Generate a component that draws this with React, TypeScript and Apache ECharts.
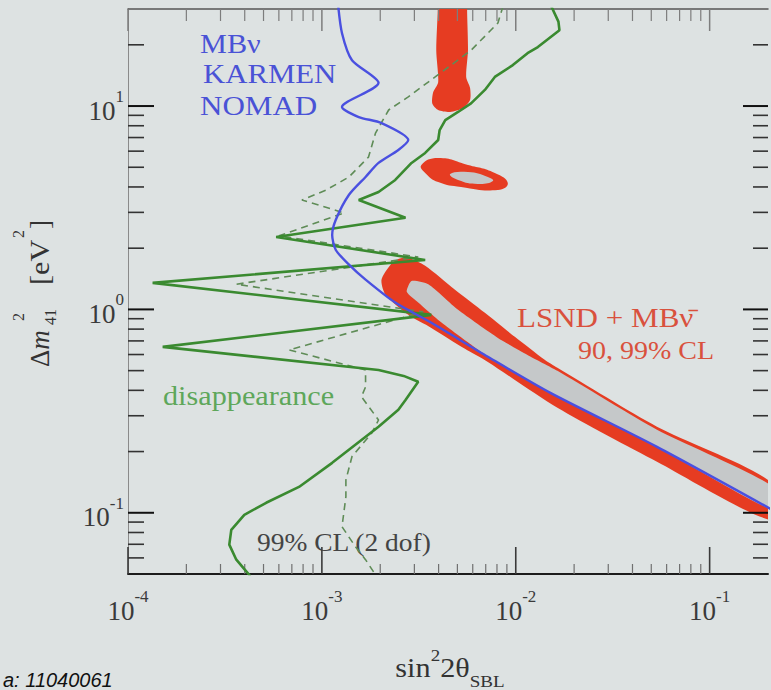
import React, { useEffect, useRef } from 'react';
import * as echarts from 'echarts';

// ---- axis ranges & ticks ----
const X_MIN = 1e-4;
const X_MAX = 0.2;
const Y_MIN = 0.05;
const Y_MAX = 30;
const xMajor = [1e-4, 1e-3, 1e-2, 1e-1];
const xMajorLabels = ['-4', '-3', '-2', '-1'];
const yMajor = [0.1, 1, 10];
const yMajorLabels = ['-1', '0', '1'];
const minorMultipliers = [2, 3, 4, 5, 6, 7, 8, 9];
const xDecades = [1e-4, 1e-3, 1e-2, 1e-1];
const yDecades = [0.01, 0.1, 1, 10];

// ---- curves: [sin^2 2theta, dm^2 (eV^2)] ----
const blueCurve = [
  [1.21e-3, 32], [1.27e-3, 22.8], [1.43e-3, 16.8], [1.96e-3, 13.0], [1.27e-3, 9.89],
  [1.55e-3, 8.83], [2.03e-3, 8.25], [2.79e-3, 6.81], [2.48e-3, 6.08], [1.96e-3, 5.25],
  [1.68e-3, 4.48], [1.38e-3, 3.66], [1.18e-3, 2.76], [1.13e-3, 2.32], [1.18e-3, 1.96],
  [1.38e-3, 1.66], [1.68e-3, 1.40], [2.39e-3, 1.08], [3.67e-3, 0.859], [7.18e-3, 0.585],
  [1.5e-2, 0.39], [5.35e-2, 0.211], [0.208, 0.104],
];

const greenSolid = [
  [1.5e-2, 32], [1.66e-2, 26.0], [1.68e-2, 23.6], [1.30e-2, 19.5], [1.15e-2, 18.2],
  [9.66e-3, 15.9], [7.80e-3, 13.9], [6.93e-3, 12.0], [5.88e-3, 10.3], [5.04e-3, 9.35],
  [4.33e-3, 8.53], [4.05e-3, 7.62], [3.98e-3, 6.81], [3.41e-3, 5.88], [2.90e-3, 5.25],
  [2.39e-3, 4.33], [1.96e-3, 3.78], [1.55e-3, 3.45], [2.70e-3, 2.82], [5.81e-4, 2.27],
  [3.41e-3, 1.75], [1.34e-4, 1.35], [3.67e-3, 0.94], [1.51e-4, 0.654], [1.96e-3, 0.504],
  [2.64e-3, 0.471], [3.14e-3, 0.441], [2.70e-3, 0.359], [2.48e-3, 0.321], [1.96e-3, 0.265],
  [1.13e-3, 0.176], [7.62e-4, 0.134], [5.16e-4, 0.112], [3.98e-4, 0.0977], [3.41e-4, 0.0824],
  [3.33e-4, 0.0697], [3.62e-4, 0.0588], [4.22e-4, 0.0495], [4.48e-4, 0.044],
];

const greenDashed = [
  [8.6e-3, 31], [8.09e-3, 25.6], [5.88e-3, 18.8], [3.84e-3, 13.9], [2.79e-3, 11.1],
  [2.21e-3, 9.56], [1.89e-3, 7.36], [1.74e-3, 5.61], [1.38e-3, 4.48], [1.05e-3, 3.86],
  [7.89e-4, 3.45], [9.66e-4, 3.26], [1.30e-3, 2.98], [6.01e-4, 2.30], [3.14e-3, 1.81],
  [3.62e-4, 1.33], [3.33e-3, 0.973], [6.77e-4, 0.632], [1.68e-3, 0.504], [1.68e-3, 0.416],
  [1.60e-3, 0.372], [1.96e-3, 0.286], [1.81e-3, 0.247], [1.43e-3, 0.189], [1.33e-3, 0.145],
  [1.33e-3, 0.12], [1.27e-3, 0.0854], [1.49e-3, 0.0681], [1.68e-3, 0.0588], [1.96e-3, 0.047],
];

// ---- allowed regions (closed outlines) ----
const band99 = [
  [2.79e-3, 1.79], [3.41e-3, 1.64], [4.86e-3, 1.25], [6.93e-3, 0.962], [9.89e-3, 0.733],
  [1.41e-2, 0.565], [1.64e-2, 0.516], [5.35e-2, 0.265], [0.208, 0.141],
  [0.208, 0.092], [5.35e-2, 0.178], [1.64e-2, 0.328], [7.18e-3, 0.552], [5.47e-3, 0.64],
  [3.67e-3, 0.811], [2.79e-3, 0.94], [2.13e-3, 1.18], [2.03e-3, 1.40], [2.26e-3, 1.66],
  [2.48e-3, 1.77],
];
const band90 = [
  [2.90e-3, 1.38], [3.54e-3, 1.33], [5.04e-3, 0.995], [8.09e-3, 0.724], [1.15e-2, 0.597],
  [1.64e-2, 0.499], [5.35e-2, 0.256], [0.208, 0.136],
  [0.208, 0.104], [5.35e-2, 0.211], [1.5e-2, 0.39], [7.18e-3, 0.585], [5.88e-3, 0.672],
  [3.98e-3, 0.888], [3.14e-3, 1.08], [2.74e-3, 1.22],
];
const topBlob99 = [
  [3.96e-3, 45], [5.63e-3, 45], [5.61e-3, 30], [5.67e-3, 18.8], [5.55e-3, 13.9], [5.81e-3, 12.3],
  [5.81e-3, 10.7], [5.35e-3, 9.78], [4.59e-3, 9.35], [3.98e-3, 9.56], [3.71e-3, 10.3],
  [3.75e-3, 11.7], [3.98e-3, 13.1], [3.89e-3, 18.8], [3.96e-3, 30],
];
const island99 = [
  [3.26e-3, 5.13], [3.98e-3, 5.55], [5.67e-3, 5.13], [7.80e-3, 4.69], [9.10e-3, 4.18],
  [8.09e-3, 3.86], [5.22e-3, 4.0], [3.98e-3, 4.23], [3.41e-3, 4.69],
];
const island90 = [
  [4.59e-3, 4.63], [5.67e-3, 4.74], [7.18e-3, 4.48], [7.62e-3, 4.28], [6.38e-3, 4.14],
  [5.04e-3, 4.33],
];

// ---- styling ----
const BG = '#dde2e2';
const RED = '#e63c22';
const GRAY = '#c5c8c9';
const SERIF = "'Liberation Serif', 'DejaVu Serif', serif";
const LABEL = '#3a3a3a';
const TITLE = '#333';

const tickRich = {
  b: { fontSize: 27, fontFamily: SERIF, color: LABEL, padding: [9, 0, 0, 0], verticalAlign: 'bottom' },
  s: { fontSize: 17, fontFamily: SERIF, color: LABEL, verticalAlign: 'top' },
};

function powLabel(v: number, majors: number[], labels: string[]) {
  for (let i = 0; i < majors.length; i++) {
    if (Math.abs(v / majors[i] - 1) < 1e-6) return `{b|10}{s|${labels[i]}}`;
  }
  return '';
}

function buildTicks(decades: number[], majors: number[], lo: number, hi: number) {
  const out: number[][] = [];
  majors.forEach((m) => out.push([m, 1]));
  decades.forEach((d) =>
    minorMultipliers.forEach((k) => {
      const v = d * k;
      if (v > lo && v < hi) out.push([v, 0]);
    })
  );
  return out;
}

function polySeries(points: number[][], fill: string, smooth: number) {
  return {
    type: 'custom',
    coordinateSystem: 'cartesian2d',
    silent: true,
    clip: true,
    data: [points[0]],
    renderItem: (_p: any, api: any) => ({
      type: 'polygon',
      shape: { points: points.map((p) => api.coord(p)), smooth },
      style: { fill },
    }),
  };
}

function vText(x: number, y: number, text: string, fontSize: number, extra: any = {}, scaleX = 1) {
  return {
    type: 'text',
    x,
    y,
    rotation: Math.PI / 2,
    scaleX,
    silent: true,
    style: { text, fontSize, fontFamily: SERIF, fill: TITLE, align: 'left', verticalAlign: 'middle', ...extra },
  };
}

function buildOption() {
  const xTicks = buildTicks(xDecades, xMajor, X_MIN, X_MAX).map((t) => [t[0], Y_MIN, t[1]]);
  const yTicks = buildTicks(yDecades, yMajor, Y_MIN, Y_MAX).map((t) => [X_MIN, t[0], t[1]]);

  const baseAxis = {
    type: 'log',
    logBase: 10,
    splitLine: { show: false },
    axisTick: { show: false },
    minorTick: { show: false },
    minorSplitLine: { show: false },
  };

  return {
    animation: false,
    backgroundColor: BG,
    grid: { left: 128, top: 9, width: 644, height: 565, containLabel: false },
    xAxis: [
      {
        ...baseAxis,
        min: X_MIN,
        max: X_MAX,
        position: 'bottom',
        axisLine: { show: true, onZero: false, lineStyle: { color: '#1c1c1c', width: 2 } },
        axisLabel: {
          margin: 14,
          showMinLabel: true,
          formatter: (v: number) => powLabel(v, xMajor, xMajorLabels),
          rich: tickRich,
        },
      },
      {
        ...baseAxis,
        min: X_MIN,
        max: X_MAX,
        position: 'top',
        axisLine: { show: true, onZero: false, lineStyle: { color: '#555', width: 1.5 } },
        axisLabel: { show: false },
      },
    ],
    yAxis: [
      {
        ...baseAxis,
        min: Y_MIN,
        max: Y_MAX,
        position: 'left',
        axisLine: { show: true, onZero: false, lineStyle: { color: '#8a8a8a', width: 1 } },
        axisLabel: {
          margin: 4,
          formatter: (v: number) => powLabel(v, yMajor, yMajorLabels),
          rich: tickRich,
        },
      },
      {
        ...baseAxis,
        min: Y_MIN,
        max: Y_MAX,
        position: 'right',
        axisLine: { show: false },
        axisLabel: { show: false },
      },
    ],
    series: [
      polySeries(band99, RED, 0.25),
      polySeries(band90, GRAY, 0.2),
      polySeries(topBlob99, RED, 0.25),
      polySeries(island99, RED, 0.5),
      polySeries(island90, GRAY, 0.5),
      {
        type: 'line',
        data: greenDashed,
        symbol: 'none',
        silent: true,
        lineStyle: { color: '#5f8c57', width: 1.6, type: [7, 5] },
      },
      {
        type: 'line',
        data: greenSolid,
        symbol: 'none',
        silent: true,
        lineStyle: { color: '#3a8a30', width: 2.6 },
      },
      {
        type: 'line',
        data: blueCurve,
        symbol: 'none',
        silent: true,
        smooth: 0.25,
        lineStyle: { color: '#4a50e0', width: 2.4 },
      },
      {
        type: 'custom',
        coordinateSystem: 'cartesian2d',
        silent: true,
        dimensions: ['x', 'y', 'k'],
        encode: { x: 0, y: 1 },
        data: xTicks,
        renderItem: (params: any, api: any) => {
          const major = api.value(2) === 1;
          const px = api.coord([api.value(0), Y_MIN])[0];
          const cs = params.coordSys;
          const yb = cs.y + cs.height;
          const yt = cs.y;
          return {
            type: 'group',
            children: [
              {
                type: 'line',
                shape: { x1: px, y1: yb, x2: px, y2: yb - (major ? 27 : 10) },
                style: { stroke: major ? '#3a3a3a' : '#707070', lineWidth: major ? 1.6 : 1.2 },
              },
              {
                type: 'line',
                shape: { x1: px, y1: yt, x2: px, y2: yt + (major ? 22 : 12) },
                style: { stroke: '#7d7d7d', lineWidth: major ? 1.5 : 1.2 },
              },
            ],
          };
        },
      },
      {
        type: 'custom',
        coordinateSystem: 'cartesian2d',
        silent: true,
        dimensions: ['x', 'y', 'k'],
        encode: { x: 0, y: 1 },
        data: yTicks,
        renderItem: (params: any, api: any) => {
          const major = api.value(2) === 1;
          const py = api.coord([X_MIN, api.value(1)])[1];
          const cs = params.coordSys;
          const xl = cs.x;
          const xr = cs.x + cs.width;
          return {
            type: 'group',
            children: [
              {
                type: 'line',
                shape: { x1: xl, y1: py, x2: xl + (major ? 26 : 16), y2: py },
                style: { stroke: major ? '#111' : '#333', lineWidth: major ? 2 : 1.6 },
              },
              {
                type: 'line',
                shape: { x1: xr, y1: py, x2: xr - (major ? 25 : 15), y2: py },
                style: { stroke: major ? '#111' : '#333', lineWidth: major ? 2 : 1.6 },
              },
            ],
          };
        },
      },
    ],
    graphic: [
      { type: 'text', x: 200, y: 44, scaleX: 1.12, silent: true,
        style: { text: 'MBν', fontSize: 27, fontFamily: SERIF, fill: '#4a52d6', verticalAlign: 'middle' } },
      { type: 'text', x: 203, y: 74, scaleX: 1.14, silent: true,
        style: { text: 'KARMEN', fontSize: 27, fontFamily: SERIF, fill: '#4a52d6', verticalAlign: 'middle' } },
      { type: 'text', x: 200, y: 106, scaleX: 1.15, silent: true,
        style: { text: 'NOMAD', fontSize: 27, fontFamily: SERIF, fill: '#4a52d6', verticalAlign: 'middle' } },
      { type: 'text', x: 517, y: 318, scaleX: 1.15, silent: true,
        style: { text: 'LSND + MBν̄', fontSize: 27, fontFamily: SERIF, fill: '#d9513d', verticalAlign: 'middle' } },
      { type: 'text', x: 578, y: 351, scaleX: 1.12, silent: true,
        style: { text: '90, 99% CL', fontSize: 25, fontFamily: SERIF, fill: '#d9513d', verticalAlign: 'middle' } },
      { type: 'text', x: 163, y: 396, scaleX: 1.12, silent: true,
        style: { text: 'disappearance', fontSize: 27, fontFamily: SERIF, fill: '#5ea75a', verticalAlign: 'middle' } },
      { type: 'text', x: 257, y: 543, scaleX: 1.1, silent: true,
        style: { text: '99% CL (2 dof)', fontSize: 25, fontFamily: SERIF, fill: '#444', verticalAlign: 'middle' } },
      {
        type: 'text', x: 450, y: 668, scaleX: 1.12, silent: true,
        style: {
          text: '{n|sin}{sp|2}{n|2θ}{sb|SBL}',
          align: 'center',
          verticalAlign: 'middle',
          rich: {
            n: { fontSize: 27, fontFamily: SERIF, fill: TITLE, padding: [8, 0, 8, 0] },
            sp: { fontSize: 17, fontFamily: SERIF, fill: TITLE, verticalAlign: 'top' },
            sb: { fontSize: 17, fontFamily: SERIF, fill: TITLE, verticalAlign: 'bottom' },
          },
        },
      },
      // y-axis title  Δm²₄₁ [eV²]  (reads bottom to top)
      vText(40, 367, '{n|Δ}{i|m}', 27, {
        rich: {
          n: { fontSize: 27, fontFamily: SERIF, fill: TITLE },
          i: { fontSize: 27, fontFamily: SERIF, fill: TITLE, fontStyle: 'italic' },
        },
      }),
      vText(18, 321, '2', 16),
      vText(50, 325, '41', 16),
      vText(40, 285, '[eV', 27, {}, 1.12),
      vText(18, 238, '2', 16),
      vText(40, 229, ']', 27),
      { type: 'text', x: 3, y: 690, silent: true,
        style: { text: 'a: 11040061', fontSize: 20, fontStyle: 'italic',
          fontFamily: "'Liberation Sans', Arial, sans-serif", fill: '#111', align: 'left', verticalAlign: 'bottom' } },
    ],
  };
}

export default function App() {
  const ref = useRef<HTMLDivElement>(null);
  useEffect(() => {
    if (!ref.current) return;
    const chart = echarts.init(ref.current, null, { renderer: 'svg' });
    chart.setOption(buildOption() as any);
    return () => chart.dispose();
  }, []);
  return (
    <div
      ref={ref}
      style={{ position: 'fixed', left: 0, top: 0, width: 771, height: 690, background: BG }}
    />
  );
}
